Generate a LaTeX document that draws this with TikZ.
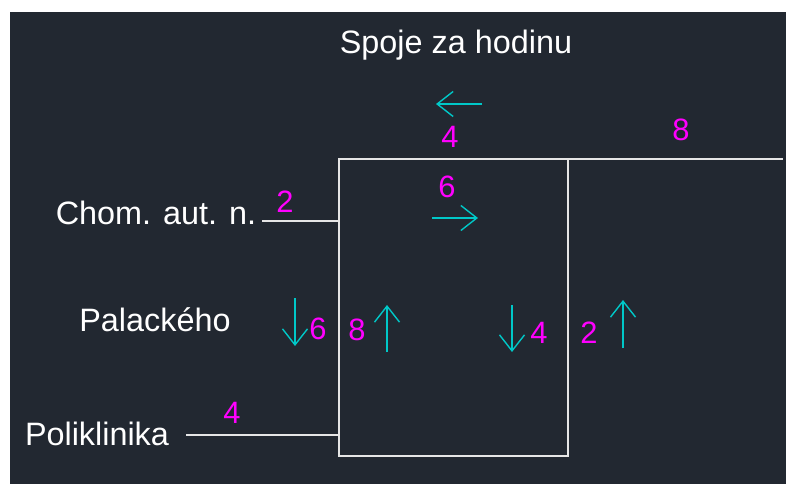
\documentclass[tikz,border=0pt]{standalone}
\usepackage{fontspec}
\setmainfont{Liberation Sans}
\usetikzlibrary{arrows.meta}
\definecolor{panel}{HTML}{222831}
\definecolor{wire}{HTML}{E6E6E6}
\definecolor{count}{HTML}{FF00FF}
\definecolor{flow}{HTML}{00C8C8}
\tikzset{
  line/.style={draw=wire, line width=1.6bp},
  stop/.style={text=white, font=\fontsize{32.5}{38}\selectfont, inner sep=0pt},
  num/.style={text=count, font=\fontsize{31}{35}\selectfont, inner sep=0pt},
  dir/.style={draw=flow, line width=1.4bp, -{Straight Barb[length=16bp, width=25bp, line width=1.4bp]}}
}
\begin{document}
\begin{tikzpicture}[x=1bp, y=-1bp]
  % canvas
  \useasboundingbox (0,0) rectangle (786,484);
  \fill[white] (0,0) rectangle (786,484);
  \fill[panel] (10,12) rectangle (786,484);

  % corners of the loop
  \coordinate (tl) at (339,159);
  \coordinate (tr) at (568,159);
  \coordinate (br) at (568,456);
  \coordinate (bl) at (339,456);
  \coordinate (east) at (783,159);
  \coordinate (chomIn) at (339,221);
  \coordinate (chomEnd) at (262,221);
  \coordinate (poliIn) at (339,435);
  \coordinate (poliEnd) at (186,435);

  \draw[line] (tl) -- (tr) -- (br) -- (bl) -- cycle;
  \draw[line] (tr) -- (east);
  \draw[line] (chomEnd) -- (chomIn);
  \draw[line] (poliEnd) -- (poliIn);

  % titles and stop names
  \node[stop] (title) at (456,45) {Spoje za hodinu};
  \node[stop] (chom) at (156,213) {Chom. aut. n.};
  \node[stop] (pal) at (155,320) {Palackého};
  \node[stop] (poli) at (97,434) {Poliklinika};

  % connections per hour
  \node[num] (nTop) at (450,137) {4};
  \node[num] (nIn) at (447,187) {6};
  \node[num] (nChom) at (285,202) {2};
  \node[num] (nEast) at (681,130) {8};
  \node[num] (nDownL) at (318,329) {6};
  \node[num] (nUpL) at (357,330) {8};
  \node[num] (nDownR) at (539,333) {4};
  \node[num] (nUpR) at (589,333) {2};
  \node[num] (nPoli) at (232,413) {4};

  % direction arrows
  \coordinate (a1s) at (482,104); \coordinate (a1e) at (436,104);
  \coordinate (a2s) at (432,218); \coordinate (a2e) at (478,218);
  \coordinate (a3s) at (295,298); \coordinate (a3e) at (295,346);
  \coordinate (a4s) at (387,352); \coordinate (a4e) at (387,305);
  \coordinate (a5s) at (512,305); \coordinate (a5e) at (512,352);
  \coordinate (a6s) at (623,348); \coordinate (a6e) at (623,300);
  \draw[dir] (a1s) -- (a1e);
  \draw[dir] (a2s) -- (a2e);
  \draw[dir] (a3s) -- (a3e);
  \draw[dir] (a4s) -- (a4e);
  \draw[dir] (a5s) -- (a5e);
  \draw[dir] (a6s) -- (a6e);
\end{tikzpicture}
\end{document}
